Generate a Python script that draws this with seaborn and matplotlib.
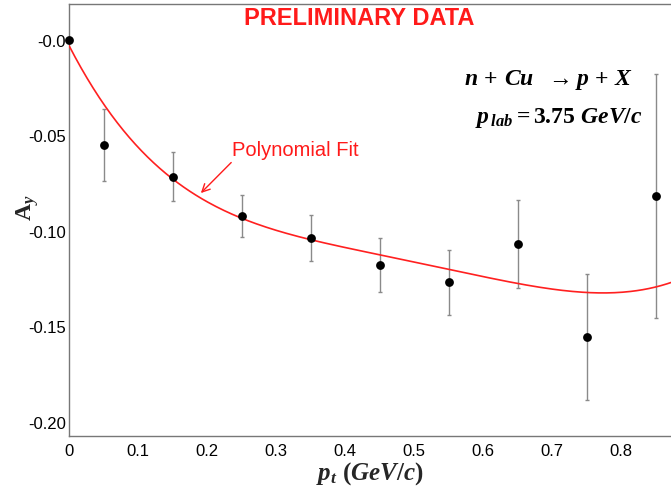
import numpy as np
import pandas as pd
import matplotlib
matplotlib.use("Agg")
import matplotlib.pyplot as plt
from matplotlib.ticker import MultipleLocator, FixedLocator, FixedFormatter
import seaborn as sns

# ---- data ----
pt = [0.0, 0.05, 0.15, 0.25, 0.35, 0.45, 0.55, 0.65, 0.75, 0.85]
ay = [0.0, -0.0549, -0.0716, -0.0920, -0.1039, -0.1178, -0.1270, -0.1069, -0.1558, -0.0818]
ay_err = [0.0, 0.019, 0.013, 0.011, 0.012, 0.014, 0.017, 0.023, 0.033, 0.064]

# polynomial-fit curve
fit_x = [0.0, 0.05, 0.10, 0.15, 0.19, 0.25, 0.35, 0.45, 0.55, 0.65, 0.75, 0.78, 0.85, 0.872]
fit_y = [-0.002, -0.035, -0.057, -0.0716, -0.0807, -0.0947, -0.1052, -0.1127,
         -0.1197, -0.1274, -0.1322, -0.1331, -0.1293, -0.127]

y_ticks = [0.0, -0.05, -0.10, -0.15, -0.20]
y_tick_labels = ["-0.0", "-0.05", "-0.10", "-0.15", "-0.20"]
x_ticks = [0, 0.1, 0.2, 0.3, 0.4, 0.5, 0.6, 0.7, 0.8]
x_tick_labels = ["0", "0.1", "0.2", "0.3", "0.4", "0.5", "0.6", "0.7", "0.8"]

sns.set_style("white")
plt.rcParams["font.family"] = ["Liberation Sans", "DejaVu Sans"]
plt.rcParams["mathtext.fontset"] = "custom"
plt.rcParams["mathtext.it"] = "Liberation Serif:italic:bold"
plt.rcParams["mathtext.rm"] = "Liberation Serif:bold"
plt.rcParams["mathtext.bf"] = "Liberation Serif:bold"

fig = plt.figure(figsize=(6.71, 4.89), dpi=100)
ax = fig.add_axes([69 / 671, 1 - 437.3 / 489, 1 - 69 / 671, (437.3 - 5) / 489])

df = pd.DataFrame({"pt": pt, "ay": ay, "err": ay_err})
coef = np.polyfit(fit_x, fit_y, 5)
xs = np.linspace(0.0, 0.872, 300)
fit_df = pd.DataFrame({"pt": xs, "ay": np.polyval(coef, xs)})

ax.errorbar(df["pt"], df["ay"], yerr=df["err"], fmt="none", ecolor="#8a8a8a",
            elinewidth=1.0, capsize=1.5, capthick=1.0, zorder=2)
sns.lineplot(data=fit_df, x="pt", y="ay", color="#ff2020", linewidth=1.2, ax=ax, zorder=3)
sns.scatterplot(data=df, x="pt", y="ay", color="black", s=40, edgecolor="black",
                linewidth=0, ax=ax, zorder=4, clip_on=False)

ax.set_xlim(0, 0.872)
ax.set_ylim(-0.2077, 0.0189)

ax.xaxis.set_major_locator(FixedLocator(x_ticks))
ax.xaxis.set_major_formatter(FixedFormatter(x_tick_labels))
ax.xaxis.set_minor_locator(MultipleLocator(0.02))
ax.yaxis.set_major_locator(FixedLocator(y_ticks))
ax.yaxis.set_major_formatter(FixedFormatter(y_tick_labels))
ax.yaxis.set_minor_locator(MultipleLocator(0.01))

ax.tick_params(axis="both", which="both", direction="in", color="#777777",
               labelcolor="black", labelsize=12, width=1.0)
ax.tick_params(axis="y", which="major", length=13, pad=2)
ax.tick_params(axis="y", which="minor", length=6.5)
ax.tick_params(axis="x", which="major", length=9.5, pad=5)
ax.tick_params(axis="x", which="minor", length=4.5)
ax.tick_params(top=False, right=False, which="both")

for side in ["left", "bottom", "top"]:
    ax.spines[side].set_color("#777777")
    ax.spines[side].set_linewidth(1.0)
ax.spines["right"].set_visible(False)

ax.set_xlabel(r"$p_{t}\ (GeV/c)$", fontsize=18)
ax.xaxis.set_label_coords(0.5, -0.052)
ax.set_ylabel(r"$\mathrm{A}_{y}$", fontsize=17, rotation=90)
ax.yaxis.set_label_coords(-0.047, 0.53)

ax.text(0.535, 0.985, "PRELIMINARY DATA", transform=fig.transFigure, ha="center",
        va="top", color="#ff1a1a", fontsize=17, fontweight="bold",
        fontfamily=["Liberation Sans", "DejaVu Sans"])
ax.text(0.943, 1 - 80 / 489, r"$n\,+\,Cu\ \ \rightarrow p\,+\,X$", transform=fig.transFigure,
        ha="right", va="center", fontsize=17, color="black")
ax.text(0.958, 1 - 118 / 489, r"$p_{\,lab} = 3.75\ GeV/c$", transform=fig.transFigure,
        ha="right", va="center", fontsize=17, color="black")

ax.annotate("Polynomial Fit", xy=(0.191, -0.0802), xytext=(0.236, -0.0575),
            color="#ff1a1a", fontsize=14.5, va="center", ha="left",
            arrowprops=dict(arrowstyle="->", color="#ff1a1a", lw=1.0,
                            shrinkA=0, shrinkB=0, mutation_scale=14,
                            relpos=(0.02, 0.0)))

fig.savefig("out.png", dpi=100)
